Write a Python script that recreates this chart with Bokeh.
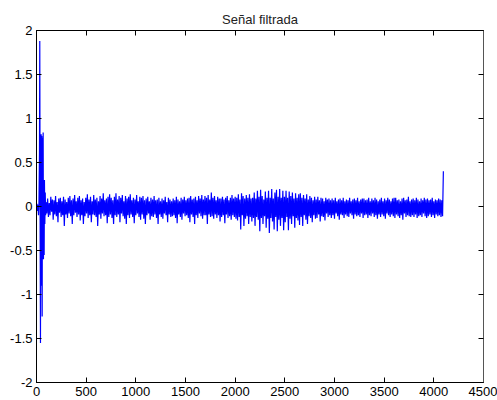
from bokeh.plotting import figure
from bokeh.models import Range1d, FixedTicker, LinearAxis, CustomJSTickFormatter
from bokeh.embed import file_html
from bokeh.resources import INLINE

# ---- data ----
title_text = "Señal filtrada"
x_ticks = [0, 500, 1000, 1500, 2000, 2500, 3000, 3500, 4000, 4500]
y_ticks = [-2, -1.5, -1, -0.5, 0, 0.5, 1, 1.5, 2]

# onset transient (sample index, amplitude)
onset_x = [0, 5, 10, 15, 20, 25, 30, 33, 37, 40, 43, 47, 50, 53, 57, 60, 63, 67, 70, 73, 77, 80, 84, 88, 92]
onset_y = [0.0, 0.03, -0.05, 0.02, -0.1, 0.05, 0.6, 1.88, -0.4, -1.55, 0.3, 0.82, -0.9, 0.8, -1.25,
           0.78, -0.3, 0.84, -0.6, 0.2, -0.55, 0.3, -0.2, 0.16, -0.1]

# body of the signal, one value every 8 samples starting at sample 96
body_start = 96
body_step = 8
body_y = [
    0.05, -0.08, 0.09, -0.12, 0.04, -0.10, 0.11, -0.06, 0.08, -0.15, 0.07, -0.09, 0.12, -0.11, 0.05, -0.18, 0.09, -0.07, 0.10, -0.12,
    0.06, -0.10, 0.11, -0.22, 0.08, -0.09, 0.05, -0.13, 0.10, -0.08, 0.12, -0.11, 0.07, -0.20, 0.09, -0.10, 0.13, -0.07, 0.06, -0.12,
    0.10, -0.09, 0.12, -0.16, 0.07, -0.10, 0.09, -0.20, 0.05, -0.11, 0.10, -0.08, 0.14, -0.13, 0.08, -0.10, 0.11, -0.18, 0.06, -0.09,
    0.13, -0.10, 0.08, -0.12, 0.10, -0.22, 0.06, -0.09, 0.12, -0.14, 0.09, -0.08, 0.15, -0.11, 0.07, -0.10, 0.09, -0.19, 0.11, -0.12,
    0.14, -0.09, 0.10, -0.13, 0.07, -0.20, 0.11, -0.10, 0.15, -0.12, 0.08, -0.09, 0.12, -0.18, 0.10, -0.08, 0.13, -0.11, 0.06, -0.14,
    0.12, -0.20, 0.09, -0.10, 0.11, -0.13, 0.14, -0.09, 0.07, -0.12, 0.10, -0.19, 0.08, -0.10, 0.13, -0.08, 0.06, -0.12, 0.11, -0.15,
    0.10, -0.09, 0.12, -0.14, 0.07, -0.20, 0.09, -0.10, 0.11, -0.08, 0.06, -0.15, 0.10, -0.11, 0.08, -0.12, 0.12, -0.09, 0.07, -0.13,
    0.08, -0.20, 0.10, -0.09, 0.06, -0.12, 0.09, -0.14, 0.07, -0.08, 0.11, -0.10, 0.05, -0.18, 0.10, -0.09, 0.08, -0.12, 0.06, -0.11,
    0.09, -0.10, 0.07, -0.13, 0.11, -0.19, 0.08, -0.09, 0.06, -0.12, 0.10, -0.15, 0.08, -0.08, 0.11, -0.11, 0.07, -0.10, 0.09, -0.13,
    0.10, -0.18, 0.12, -0.09, 0.08, -0.12, 0.09, -0.20, 0.11, -0.10, 0.07, -0.13, 0.12, -0.08, 0.09, -0.11, 0.13, -0.14, 0.08, -0.10,
    0.12, -0.10, 0.10, -0.20, 0.13, -0.09, 0.08, -0.12, 0.16, -0.11, 0.10, -0.14, 0.12, -0.09, 0.07, -0.13, 0.11, -0.10, 0.09, -0.17,
    0.09, -0.12, 0.11, -0.10, 0.08, -0.19, 0.10, -0.09, 0.12, -0.13, 0.07, -0.11, 0.10, -0.15, 0.13, -0.10, 0.09, -0.12, 0.11, -0.14,
    0.10, -0.16, 0.14, -0.12, 0.08, -0.26, 0.15, -0.10, 0.12, -0.22, 0.09, -0.14, 0.13, -0.11, 0.10, -0.20, 0.14, -0.12, 0.09, -0.17,
    0.10, -0.13, 0.16, -0.22, 0.09, -0.12, 0.18, -0.15, 0.11, -0.28, 0.19, -0.13, 0.12, -0.20, 0.08, -0.11, 0.17, -0.24, 0.10, -0.14,
    0.18, -0.30, 0.10, -0.13, 0.20, -0.17, 0.09, -0.26, 0.16, -0.12, 0.19, -0.28, 0.11, -0.15, 0.20, -0.22, 0.10, -0.13, 0.18, -0.27,
    0.11, -0.18, 0.18, -0.12, 0.10, -0.27, 0.17, -0.14, 0.12, -0.20, 0.16, -0.11, 0.09, -0.24, 0.15, -0.13, 0.10, -0.16, 0.14, -0.21,
    0.15, -0.12, 0.10, -0.22, 0.13, -0.10, 0.09, -0.15, 0.14, -0.20, 0.08, -0.11, 0.12, -0.13, 0.10, -0.18, 0.07, -0.10, 0.11, -0.14,
    0.08, -0.13, 0.11, -0.09, 0.07, -0.17, 0.10, -0.11, 0.09, -0.12, 0.06, -0.16, 0.10, -0.08, 0.08, -0.12, 0.09, -0.10, 0.07, -0.13,
    0.09, -0.10, 0.07, -0.14, 0.10, -0.08, 0.06, -0.11, 0.08, -0.15, 0.09, -0.09, 0.07, -0.10, 0.10, -0.13, 0.06, -0.09, 0.08, -0.11,
    0.07, -0.12, 0.10, -0.08, 0.06, -0.10, 0.08, -0.14, 0.09, -0.09, 0.07, -0.11, 0.10, -0.10, 0.06, -0.12, 0.08, -0.08, 0.09, -0.13,
    0.09, -0.10, 0.07, -0.09, 0.08, -0.13, 0.10, -0.10, 0.06, -0.11, 0.09, -0.08, 0.07, -0.12, 0.10, -0.10, 0.08, -0.14, 0.06, -0.09,
    0.08, -0.12, 0.10, -0.09, 0.06, -0.11, 0.09, -0.14, 0.07, -0.08, 0.10, -0.10, 0.08, -0.12, 0.06, -0.09, 0.09, -0.11, 0.10, -0.13,
    0.10, -0.09, 0.07, -0.11, 0.08, -0.13, 0.06, -0.10, 0.09, -0.15, 0.10, -0.08, 0.07, -0.12, 0.08, -0.10, 0.11, -0.11, 0.06, -0.12,
    0.08, -0.10, 0.09, -0.12, 0.07, -0.09, 0.10, -0.13, 0.08, -0.11, 0.06, -0.10, 0.09, -0.12, 0.07, -0.08, 0.10, -0.11, 0.08, -0.13,
    0.09, -0.11, 0.07, -0.09, 0.08, -0.12, 0.10, -0.10, 0.06, -0.13, 0.08, -0.09, 0.07, -0.11, 0.09, -0.10, 0.08, -0.12, 0.07, -0.11,
    0.40,
]

body_x = [body_start + body_step * i for i in range(len(body_y))]
xs = onset_x + body_x
ys = onset_y + body_y

FONT = "Liberation Sans"

p = figure(width=497, height=400, output_backend="svg", toolbar_location=None,
           x_range=Range1d(0, 4500), y_range=Range1d(-2, 2),
           min_border_left=36, min_border_right=14, min_border_top=30, min_border_bottom=18)
p.title.text = title_text
p.title.align = "center"
p.title.text_font = FONT
p.title.text_font_size = "13px"
p.title.text_font_style = "normal"
p.title.text_color = "#222222"
p.title.standoff = 8

p.line(xs, ys, line_color="#0000FF", line_width=1.2)

p.grid.visible = False
p.outline_line_color = "black"
p.outline_line_width = 1
p.background_fill_color = "white"
p.border_fill_color = "white"

yfmt = CustomJSTickFormatter(code="return tick.toString();")
blank = CustomJSTickFormatter(code="return '';")

def style(ax, labels=True):
    ax.major_tick_in = 5
    ax.major_tick_out = 0
    ax.minor_tick_line_color = None
    ax.axis_line_color = "black"
    ax.major_tick_line_color = "black"
    ax.major_label_text_font = FONT
    ax.major_label_text_font_size = "13px"
    ax.major_label_text_color = "black"
    ax.major_label_standoff = 4 if labels else 0

p.xaxis.ticker = FixedTicker(ticks=x_ticks)
p.yaxis.ticker = FixedTicker(ticks=y_ticks)
p.yaxis.formatter = yfmt
style(p.xaxis[0])
style(p.yaxis[0])

top = LinearAxis(ticker=FixedTicker(ticks=x_ticks), formatter=blank)
style(top, labels=False)
p.add_layout(top, "above")
right = LinearAxis(ticker=FixedTicker(ticks=y_ticks), formatter=blank)
style(right, labels=False)
right.axis_line_color = "#555555"
p.add_layout(right, "right")

open("out.html", "w").write(file_html(p, INLINE))
